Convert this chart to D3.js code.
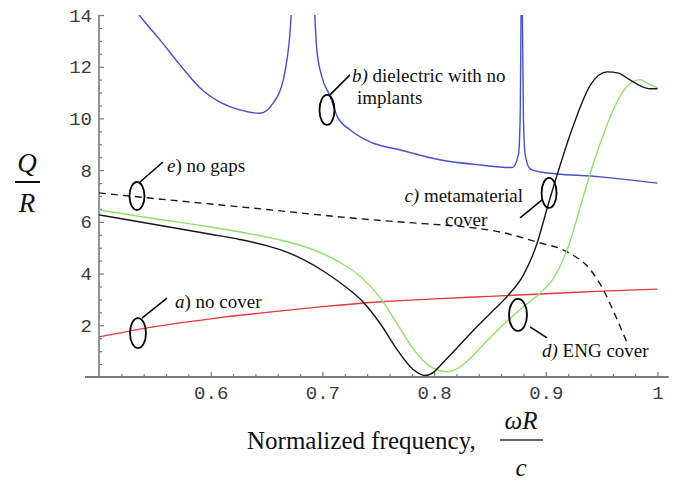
<!DOCTYPE html>
<html>
<head>
<meta charset="utf-8">
<script src="https://d3js.org/d3.v7.min.js"></script>
<style>
  body { margin: 0; background: #fff; }
  .curve { fill: none; stroke-width: 1.4px; }
  .tick text { font-family: "Liberation Mono", monospace; font-size: 19px; fill: #3c3c3c; }
  .note { font-family: "Liberation Serif", serif; font-size: 19px; fill: #111; }
  .title { font-family: "Liberation Serif", serif; fill: #111; }
</style>
</head>
<body>
<div id="div"></div>
<script>
// a) no cover
let freqA = [0.5, 0.55, 0.6, 0.65, 0.7, 0.75, 0.8, 0.85, 0.9, 0.95, 1.0];
let qA = [1.55, 1.95, 2.25, 2.5, 2.72, 2.9, 3.02, 3.12, 3.22, 3.32, 3.4];

// b) dielectric with no implants (goes off the top at the resonances)
let freqB = [0.53, 0.536, 0.5546, 0.5725, 0.59, 0.608, 0.626, 0.644, 0.656, 0.665, 0.671, 0.675,
             0.69, 0.695, 0.6996, 0.707, 0.713, 0.725, 0.745, 0.77, 0.805, 0.841, 0.87,
             0.8755, 0.877, 0.8784, 0.88, 0.8815, 0.886, 0.895, 0.949, 1.0];
let qB = [14.35, 14.0, 13.04, 12.07, 11.2, 10.64, 10.33, 10.2, 10.6, 11.5, 13.3, 16,
          16, 12.65, 11.6, 10.85, 10.1, 9.55, 9.05, 8.78, 8.4, 8.2, 8.1,
          8.6, 10, 16, 10, 8.6, 8.05, 7.93, 7.74, 7.5];

// c) metamaterial cover
let freqC = [0.5, 0.55, 0.6, 0.626, 0.65, 0.671, 0.7, 0.718, 0.736, 0.752, 0.767, 0.781, 0.792, 0.8,
             0.805, 0.82, 0.835, 0.85, 0.865, 0.88, 0.892, 0.901, 0.91, 0.924, 0.94, 0.955,
             0.965, 0.975, 0.985, 0.993, 1.0];
let qC = [6.27, 5.9, 5.52, 5.32, 5.08, 4.78, 4.12, 3.58, 2.92, 2.05, 1.05, 0.3, 0.06, 0.2,
          0.42, 1.1, 1.8, 2.45, 3.1, 3.95, 5.15, 6.5, 7.8, 9.65, 11.3, 11.8,
          11.75, 11.5, 11.25, 11.15, 11.15];

// d) ENG cover
let freqD = [0.5, 0.55, 0.6, 0.63, 0.66, 0.69, 0.715, 0.735, 0.752, 0.767, 0.782, 0.795, 0.805,
             0.812, 0.82, 0.83, 0.845, 0.865, 0.88, 0.895, 0.905, 0.913, 0.921, 0.931, 0.94,
             0.948, 0.96, 0.973, 0.984, 0.992, 1.0];
let qD = [6.46, 6.12, 5.8, 5.58, 5.32, 4.95, 4.45, 3.85, 3.05, 2.05, 1.05, 0.45, 0.25,
          0.2, 0.3, 0.62, 1.3, 2.15, 2.72, 3.25, 3.7, 4.3, 5.15, 6.6, 7.9,
          8.95, 10.3, 11.25, 11.5, 11.35, 11.18];

// e) no gaps (dashed)
let freqE = [0.5, 0.55, 0.6, 0.65, 0.716, 0.75, 0.794, 0.829, 0.86, 0.892, 0.919, 0.94, 0.953,
             0.96, 0.968, 0.974];
let qE = [7.12, 6.9, 6.69, 6.48, 6.19, 6.06, 5.92, 5.8, 5.6, 5.22, 4.84, 4.14, 3.25,
          2.6, 1.8, 1.2];

let xTicks = [0.6, 0.7, 0.8, 0.9, 1.0];
let xTickLabels = ["0.6", "0.7", "0.8", "0.9", "1"];
let yTicks = [2, 4, 6, 8, 10, 12, 14];
let yTickLabels = ["2", "4", "6", "8", "10", "12", "14"];

let width = 682, height = 485;

var x = d3.scaleLinear().domain([0.5, 1.01]).range([99, 668.7]);
var y = d3.scaleLinear().domain([0, 14]).range([377, 15]);

var svg = d3.select("#div").append("svg")
  .attr("width", width)
  .attr("height", height);

svg.append("defs").append("clipPath")
  .attr("id", "clip")
  .append("rect")
  .attr("x", x(0.5)).attr("y", y(14))
  .attr("width", x(1.01) - x(0.5))
  .attr("height", y(0) - y(14));

// axes (Mathematica style: ticks pointing inward, grey lines)
var axisColor = "#7a7a7a";

var xMinor = d3.range(0.52, 1.005, 0.02).filter(v => Math.abs(v * 10 - Math.round(v * 10)) > 0.01);
var yMinor = d3.range(0.5, 14, 0.5).filter(v => v % 2 !== 0);

var gx = svg.append("g").attr("transform", "translate(0," + y(0) + ")");
gx.call(d3.axisBottom(x).tickValues(xTicks)
    .tickFormat((d, i) => xTickLabels[i])
    .tickSizeInner(-5).tickSizeOuter(0).tickPadding(9));
gx.append("g").call(d3.axisBottom(x).tickValues(xMinor).tickFormat("")
    .tickSizeInner(-3).tickSizeOuter(0));

var gy = svg.append("g").attr("transform", "translate(" + x(0.5) + ",0)");
gy.call(d3.axisLeft(y).tickValues(yTicks)
    .tickFormat((d, i) => yTickLabels[i])
    .tickSizeInner(-5).tickSizeOuter(0).tickPadding(7));
gy.append("g").call(d3.axisLeft(y).tickValues(yMinor).tickFormat("")
    .tickSizeInner(-3).tickSizeOuter(0));

svg.selectAll(".domain").remove();
svg.selectAll(".tick line").attr("stroke", axisColor).attr("stroke-width", 1.2);

svg.append("line")
  .attr("x1", x(0.5) - 14).attr("x2", x(1.01))
  .attr("y1", y(0)).attr("y2", y(0))
  .attr("stroke", axisColor).attr("stroke-width", 2);
svg.append("line")
  .attr("x1", x(0.5)).attr("x2", x(0.5))
  .attr("y1", y(0)).attr("y2", y(14))
  .attr("stroke", axisColor).attr("stroke-width", 1.6);

// curves
var valueline = d3.line()
  .x(d => x(d[0]))
  .y(d => y(d[1]))
  .curve(d3.curveMonotoneX);

var series = [
  {f: freqA, q: qA, color: "#e8373c", dash: null},
  {f: freqB, q: qB, color: "#4352c6", dash: null},
  {f: freqE, q: qE, color: "#1a1a1a", dash: "7,5"},
  {f: freqD, q: qD, color: "#8fe06c", dash: null},
  {f: freqC, q: qC, color: "#161616", dash: null}
];

var plot = svg.append("g").attr("clip-path", "url(#clip)");
series.forEach(s => {
  plot.append("path")
    .datum(d3.zip(s.f, s.q))
    .attr("class", "curve")
    .attr("stroke", s.color)
    .attr("stroke-dasharray", s.dash)
    .attr("d", valueline);
});

// annotations: ellipse centre in data units, the rest in pixels from it
var notes = [
  {cx: 0.5349, cy: 1.70, rx: 8, ry: 15, lead: [4, -15, 29, -35],
   lines: [{dx: 37, dy: -25, it: "a", txt: ") no cover", anchor: "start"}]},
  {cx: 0.534, cy: 7.0, rx: 7.5, ry: 14, lead: [3, -14, 26, -34],
   lines: [{dx: 30, dy: -24, it: "e", txt: ") no gaps", anchor: "start"}]},
  {cx: 0.7041, cy: 10.33, rx: 7.5, ry: 15, lead: [3, -15, 23, -35],
   lines: [{dx: 25, dy: -28, it: "b)", txt: " dielectric with no", anchor: "start"},
           {dx: 30, dy: -6, it: "", txt: "implants", anchor: "start"}]},
  {cx: 0.9029, cy: 7.12, rx: 7.5, ry: 15, lead: [-7, 7, -29, 25],
   lines: [{dx: -26, dy: 9, it: "c)", txt: " metamaterial", anchor: "end"},
           {dx: -104, dy: 33, it: "", txt: "cover", anchor: "start"}]},
  {cx: 0.8751, cy: 2.40, rx: 9, ry: 16, lead: [12, 12, 29, 23],
   lines: [{dx: 24, dy: 42, it: "d)", txt: " ENG cover", anchor: "start"}]}
];

notes.forEach(n => {
  var px = x(n.cx), py = y(n.cy);
  svg.append("ellipse")
    .attr("cx", px).attr("cy", py)
    .attr("rx", n.rx).attr("ry", n.ry)
    .attr("fill", "none").attr("stroke", "#000").attr("stroke-width", 1.8);
  svg.append("line")
    .attr("x1", px + n.lead[0]).attr("y1", py + n.lead[1])
    .attr("x2", px + n.lead[2]).attr("y2", py + n.lead[3])
    .attr("stroke", "#000").attr("stroke-width", 1.5);
  n.lines.forEach(l => {
    var t = svg.append("text").attr("class", "note")
      .attr("x", px + l.dx).attr("y", py + l.dy)
      .attr("text-anchor", l.anchor);
    if (l.it) t.append("tspan").attr("font-style", "italic").text(l.it);
    t.append("tspan").text(l.txt);
  });
});

// axis titles
var yl = svg.append("g");
yl.append("text").attr("class", "title")
  .attr("x", 27).attr("y", 172).attr("text-anchor", "middle")
  .attr("font-size", 27).attr("font-style", "italic").text("Q");
yl.append("line").attr("x1", 15).attr("x2", 40).attr("y1", 182).attr("y2", 182)
  .attr("stroke", "#111").attr("stroke-width", 2);
yl.append("text").attr("class", "title")
  .attr("x", 27).attr("y", 212).attr("text-anchor", "middle")
  .attr("font-size", 27).attr("font-style", "italic").text("R");

var xl = svg.append("g");
xl.append("text").attr("class", "title")
  .attr("x", 247).attr("y", 449).attr("font-size", 25)
  .text("Normalized frequency,");
xl.append("text").attr("class", "title")
  .attr("x", 521).attr("y", 429).attr("text-anchor", "middle")
  .attr("font-size", 25).attr("font-style", "italic").text("\u03c9R");
xl.append("line").attr("x1", 500).attr("x2", 543).attr("y1", 440).attr("y2", 440)
  .attr("stroke", "#333").attr("stroke-width", 1.5);
xl.append("text").attr("class", "title")
  .attr("x", 521).attr("y", 476).attr("text-anchor", "middle")
  .attr("font-size", 25).attr("font-style", "italic").text("c");
</script>
</body>
</html>
